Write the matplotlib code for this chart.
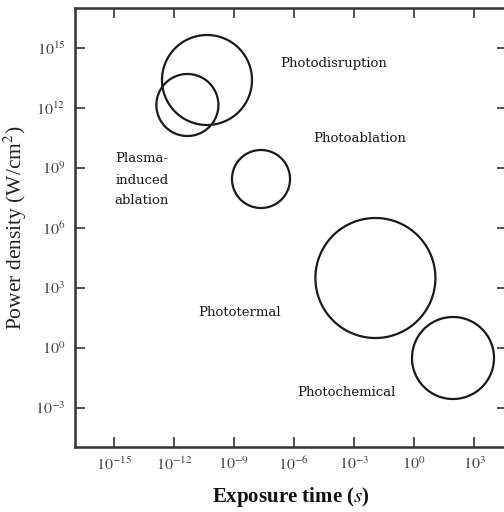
import numpy as np
import matplotlib
matplotlib.use("Agg")
import matplotlib.pyplot as plt

# Regions: centre (log10 exposure time, log10 power density) and radius in decades
regions = ["Photodisruption", "Plasma-induced ablation", "Photoablation", "Phototermal", "Photochemical"]
center_log_t = [-10.35, -11.33, -7.65, -1.93, 1.95]
center_log_p = [13.4, 12.15, 8.45, 3.5, -0.5]
radius_dec = [2.25, 1.55, 1.45, 3.0, 2.05]

labels = ["Photodisruption", "Photoablation", "Plasma-\ninduced\nablation", "Phototermal", "Photochemical"]
label_t = [10**-4.0, 10**-2.7, 10**-13.6, 10**-8.7, 10**-3.4]
label_p = [10**14.25, 10**10.5, 10**8.4, 10**1.8, 10**-2.2]

xtick_exp = [-15, -12, -9, -6, -3, 0, 3]
ytick_exp = [-3, 0, 3, 6, 9, 12, 15]

plt.rcParams['font.family'] = ['Liberation Serif', 'DejaVu Serif']
plt.rcParams['mathtext.fontset'] = 'stix'

fig = plt.figure(figsize=(5.04, 5.12), dpi=100)
ax = fig.add_axes([75/504, 65/512, 432/504, 439/512])
ax.set_xscale('log')
ax.set_yscale('log')
ax.set_xlim(10**-16.95, 10**4.65)
ax.set_ylim(10**-4.95, 10**17)

th = np.linspace(0, 2*np.pi, 400, endpoint=False)
for cx, cy, r in zip(center_log_t, center_log_p, radius_dec):
    ax.fill(10**(cx + r*np.cos(th)), 10**(cy + r*np.sin(th)), fill=False,
            edgecolor='#1a1a1a', lw=1.6, joinstyle='round')

for s, x, y in zip(labels, label_t, label_p):
    ax.text(x, y, s, ha='center', va='center', fontsize=9.5, color='#1a1a1a',
            family=['DejaVu Serif'], linespacing=1.8)

ax.set_xticks([10.0**e for e in xtick_exp])
ax.set_xticklabels([r'$10^{%d}$' % e for e in xtick_exp])
ax.set_yticks([10.0**e for e in ytick_exp])
ax.set_yticklabels([r'$10^{%d}$' % e for e in ytick_exp])
ax.minorticks_off()
ax.tick_params(direction='in', length=7, width=1.3, color='#444444', labelsize=11.5,
               labelcolor='#444444', top=True, right=True, pad=7)
for sp in ax.spines.values():
    sp.set_linewidth(1.8)
    sp.set_color('#333333')

ax.set_ylabel(r'Power density (W/cm$^2$)', fontsize=15.5, color='#222222', labelpad=4)
ax.set_xlabel(r'Exposure time ($s$)', fontsize=15, fontweight='bold', color='#111111', labelpad=8)

fig.savefig('out.png', dpi=100)
